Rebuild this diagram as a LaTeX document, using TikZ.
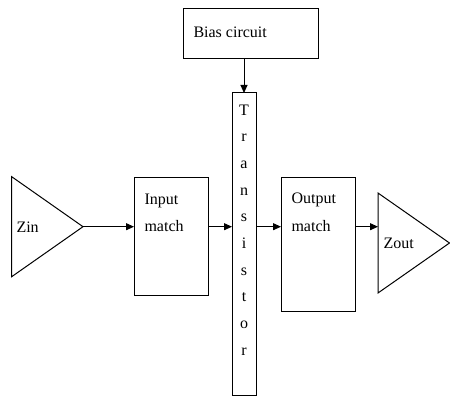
\documentclass[tikz,border=0pt]{standalone}
\usepackage{fontspec}
\setmainfont{Liberation Serif}
\usetikzlibrary{arrows.meta}
\begin{document}
\begin{tikzpicture}[x=1pt,y=-1pt,
  line width=1pt,
  blk/.style={draw,rectangle,inner sep=0pt,outer sep=0pt},
  lbl/.style={inner sep=0pt,anchor=base west,font=\fontsize{16}{20}\selectfont},
  arr/.style={-{Triangle[length=8pt,width=7pt]}}]
\useasboundingbox (0,0) rectangle (450,396);
% triangles
\coordinate (zintl) at (11.7,176.7);
\coordinate (zinbl) at (11.7,276.7);
\coordinate (zinap) at (83,226.7);
\draw (zintl) -- (zinap) -- (zinbl) -- cycle;
\coordinate (zoutl) at (378,243);
\coordinate (zouttl) at (378,193);
\coordinate (zoutbl) at (378,293);
\coordinate (zoutap) at (449.5,243);
\draw (zouttl) -- (zoutap) -- (zoutbl) -- cycle;
% boxes
\node[blk,minimum width=74pt,minimum height=118pt] (in) at (171,236) {};
\node[blk,minimum width=24pt,minimum height=302pt] (tr) at (244,244) {};
\node[blk,minimum width=135pt,minimum height=50pt] (bias) at (250.5,34) {};
\node[blk,minimum width=74pt,minimum height=134pt] (out) at (318,244) {};
% labels
\node[lbl] (zint) at (16,232) {Zin};
\node[lbl] (in1) at (144,204) {Input};
\node[lbl] (in2) at (144,231) {match};
\node[lbl] (biast) at (193,38) {Bias circuit};
\node[lbl] (out1) at (291,203) {Output};
\node[lbl] (out2) at (291,231) {match};
\node[lbl] (zoutt) at (383,248) {Zout};
\foreach \l [count=\i] in {T,r,a,n,s,i,s,t,o,r}
  \node[lbl,anchor=base] (t\i) at (244,{115+(\i-1)*26.7}) {\l};
% connectors
\coordinate (y1) at (0,226.7);
\draw[arr] (zinap) -- (zinap -| in.west);
\draw[arr] (in.east |- y1) -- (tr.west |- y1);
\draw[arr] (tr.east |- y1) -- (out.west |- y1);
\draw[arr] (out.east |- y1) -- (zoutl |- y1);
\draw[arr] (bias.south -| tr.north) -- (tr.north);
\end{tikzpicture}
\end{document}
